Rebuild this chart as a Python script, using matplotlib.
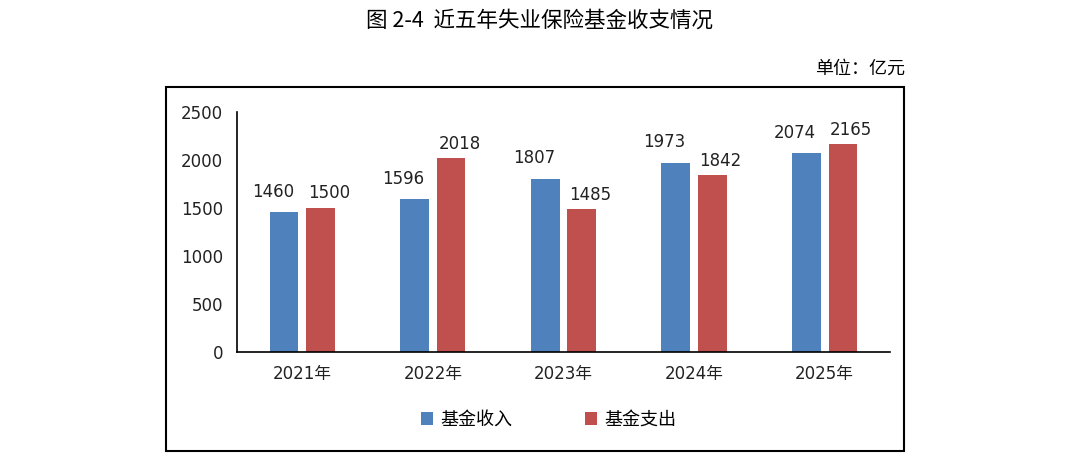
import matplotlib
matplotlib.use("Agg")
import matplotlib.pyplot as plt
from matplotlib.patches import Rectangle
import numpy as np

plt.rcParams['font.family'] = ['DejaVu Sans', 'Noto Sans CJK SC']
cjk = ['Noto Sans CJK SC', 'DejaVu Sans']

years = ['2021年', '2022年', '2023年', '2024年', '2025年']
income = [1460, 1596, 1807, 1973, 2074]
spend = [1500, 2018, 1485, 1842, 2165]

blue = '#4F81BD'
red = '#C0504D'

fig = plt.figure(figsize=(10.8, 4.59), dpi=100)

# frame around chart
fig.patches.append(Rectangle((0.1537, 0.0174), 0.6833, 0.7931, transform=fig.transFigure,
                             fill=False, edgecolor='black', linewidth=1.5))

ax = fig.add_axes([0.2194, 0.2331, 0.6046, 0.5229])
x = np.arange(len(years))
w = 0.22
b1 = ax.bar(x - 0.14, income, w, color=blue, label='基金收入')
b2 = ax.bar(x + 0.14, spend, w, color=red, label='基金支出')

# labels: income ones sit a bit left and higher, spending ones a bit right
for bars, dx, dy in ((b1, -8, 8), (b2, 6, 4)):
    for r in bars:
        ax.annotate(str(int(r.get_height())), (r.get_x() + r.get_width() / 2, r.get_height()),
                    xytext=(dx, dy), textcoords='offset points',
                    ha='center', va='bottom', fontsize=12, color='#222222')

ax.set_xlim(-0.5, len(years) - 0.5)
ax.set_ylim(0, 2500)
ax.set_yticks(range(0, 2501, 500))
ax.set_xticks(x)
ax.set_xticklabels(years)
ax.tick_params(length=0, labelsize=12, colors='#222222')
ax.tick_params(axis='y', pad=10)
ax.tick_params(axis='x', pad=9)
ax.spines['top'].set_visible(False)
ax.spines['right'].set_visible(False)
ax.spines['left'].set_linewidth(1.2)
ax.spines['bottom'].set_linewidth(1.2)

fig.legend(handles=[b1, b2], loc='center', bbox_to_anchor=(0.508, 0.085), ncol=2,
           frameon=False, prop={'family': cjk, 'size': 13}, handlelength=0.7, handleheight=0.7,
           columnspacing=4, handletextpad=0.4)

fig.text(0.5, 0.955, '图 2-4  近五年失业保险基金收支情况', ha='center', va='center',
         fontsize=15.5, family=cjk)
fig.text(0.838, 0.85, '单位：亿元', ha='right', va='center', fontsize=13, family=cjk)

fig.savefig('out.png', dpi=100)
